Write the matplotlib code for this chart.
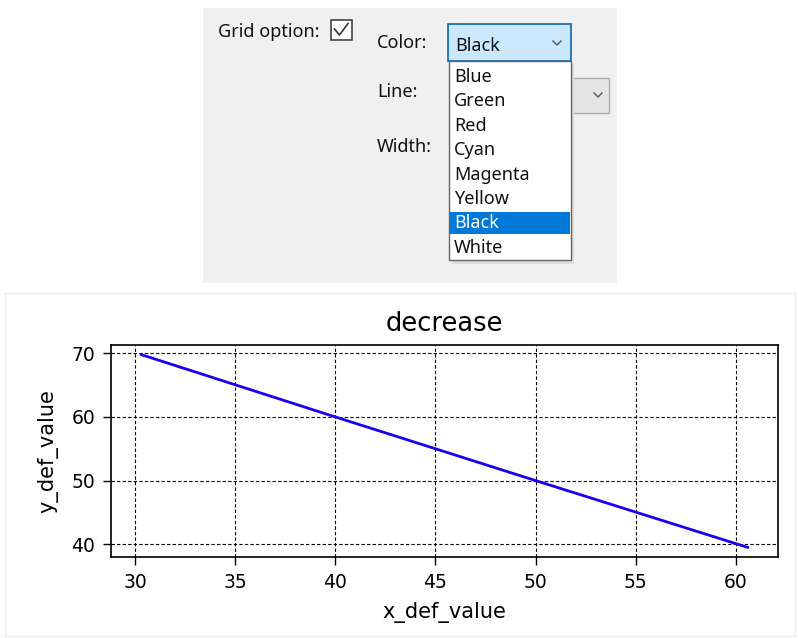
# Grid option dialog screenshot + decrease line chart
import matplotlib.pyplot as plt
from matplotlib.patches import Rectangle

# data
x_values = [30.3, 40, 50, 60.6]
y_values = [69.8, 60, 50, 39.5]
x_ticks = [30, 35, 40, 45, 50, 55, 60]
y_ticks = [40, 50, 60, 70]
color_options = ['Blue', 'Green', 'Red', 'Cyan', 'Magenta', 'Yellow', 'Black', 'White']
selected = 'Black'

W, H = 798, 638
fig = plt.figure(figsize=(W / 100, H / 100), dpi=100)
fig.patch.set_facecolor('white')

# pixel-space layer for the dialog part
gui = fig.add_axes([0, 0, 1, 1], zorder=0)
gui.set_xlim(0, W)
gui.set_ylim(H, 0)
gui.axis('off')

ui_font = dict(family=['Noto Sans', 'DejaVu Sans'], fontsize=13, color='#111111')

gui.add_patch(Rectangle((203, 8), 414, 275, fc='#f0f0f0', ec='none'))
gui.add_patch(Rectangle((5, 293), 790, 343, fc='white', ec='#ececec', lw=1))

gui.text(218, 37, 'Grid option:', va='baseline', **ui_font)
gui.add_patch(Rectangle((330.5, 19.5), 21, 20, fc='white', ec='#333333', lw=1.1))
gui.plot([334.5, 339.5, 348], [29, 35, 23.5], color='#333333', lw=1.2)

gui.text(377, 48, 'Color:', va='baseline', **ui_font)
gui.text(377, 97, 'Line:', va='baseline', **ui_font)
gui.text(377, 152, 'Width:', va='baseline', **ui_font)

# color combobox (open)
gui.add_patch(Rectangle((448, 24), 123, 37, fc='#cce8ff', ec='#0a64ad', lw=1.2))
gui.text(455, 51, selected, va='baseline', **ui_font)
gui.plot([553, 557, 561], [41, 45, 41], color='#555555', lw=1)

# line combobox, mostly hidden behind the list
gui.add_patch(Rectangle((560, 78), 49, 35, fc='#e5e5e5', ec='#adadad', lw=1, zorder=1))
gui.plot([594, 598, 602], [93, 97, 93], color='#555555', lw=1, zorder=2)

# dropdown list
gui.add_patch(Rectangle((452, 64), 122, 200, fc='#dcdcdc', ec='none', zorder=2))
gui.add_patch(Rectangle((449, 61), 122, 199, fc='white', ec='#646464', lw=1, zorder=3))
step = 24.4
for i, name in enumerate(color_options):
    base = 82 + i * step
    if name == selected:
        gui.add_patch(Rectangle((450, base - 16), 120, 21.5, fc='#0078d7', ec='none', zorder=4))
        gui.text(454, base, name, va='baseline', zorder=5,
                 **{**ui_font, 'color': 'white'})
    else:
        gui.text(454, base, name, va='baseline', zorder=5, **ui_font)

# the chart
ax = fig.add_axes([111 / W, 81 / H, 667 / W, 212 / H], zorder=1)
ax.plot(x_values, y_values, color='#1a00f0', lw=2)
ax.set_xticks(x_ticks)
ax.set_yticks(y_ticks)
ax.grid(True, color='black', linestyle=(0, (3, 2)), linewidth=0.8)
ax.tick_params(labelsize=13.5, length=5.5, width=1, pad=6)
ax.set_title('decrease', fontsize=18.5, pad=10)
ax.set_xlabel('x_def_value', fontsize=15, labelpad=7)
ax.set_ylabel('y_def_value', fontsize=15, labelpad=9)
for s in ax.spines.values():
    s.set_linewidth(1.2)

plt.savefig('out.png', dpi=100)
